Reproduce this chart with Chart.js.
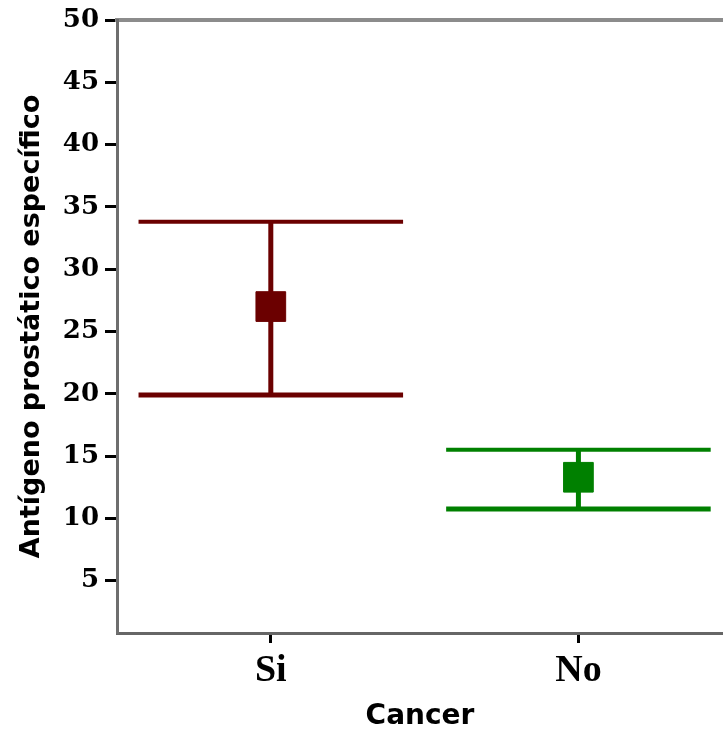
<!DOCTYPE html>
<html>
<head>
<meta charset="utf-8">
<script src="https://cdn.jsdelivr.net/npm/chart.js@4/dist/chart.umd.min.js"></script>
<style>
  body { margin: 0; background: #fff; }
  canvas { display: block; }
</style>
</head>
<body>
<canvas id="myChart" width="723" height="735"></canvas>
<script>
// data
const categories = ['Si', 'No'];
const means = [27.0, 13.3];
const lowers = [19.9, 10.75];
const uppers = [33.8, 15.5];
const yTicks = [5, 10, 15, 20, 25, 30, 35, 40, 45, 50];

const colors = ['#6b0000', '#008000'];
const capHalf = 0.43;

const datasets = [];
categories.forEach((cat, i) => {
    const c = colors[i];
    const line = {
        showLine: true,
        borderColor: c,
        backgroundColor: c,
        pointRadius: 0,
        borderCapStyle: 'butt',
    };
    datasets.push(Object.assign({}, line, {
        label: cat + ' sup',
        borderWidth: 4,
        data: [{ x: i - capHalf, y: uppers[i] }, { x: i + capHalf, y: uppers[i] }]
    }));
    datasets.push(Object.assign({}, line, {
        label: cat + ' inf',
        borderWidth: 5,
        data: [{ x: i - capHalf, y: lowers[i] }, { x: i + capHalf, y: lowers[i] }]
    }));
    datasets.push(Object.assign({}, line, {
        label: cat + ' rango',
        borderWidth: 5,
        data: [{ x: i, y: lowers[i] }, { x: i, y: uppers[i] }]
    }));
    datasets.push({
        label: cat + ' media',
        showLine: false,
        pointStyle: 'rect',
        pointRadius: 21,
        borderWidth: 1,
        borderColor: c,
        backgroundColor: c,
        data: [{ x: i, y: means[i] }]
    });
});

// no extra padding for overflowing tick labels
function noPad(scale) {
    scale.paddingLeft = 0;
    scale.paddingRight = 0;
    scale.paddingTop = 0;
    scale.paddingBottom = 0;
}

const config = {
    type: 'scatter',
    data: { datasets },
    options: {
        responsive: false,
        animation: false,
        layout: { padding: 0, autoPadding: false },
        plugins: {
            legend: { display: false },
            tooltip: { enabled: false }
        },
        scales: {
            x: {
                type: 'linear',
                position: 'bottom',
                min: -0.5,
                max: 1.47,
                afterBuildTicks: (scale) => {
                    scale.ticks = categories.map((c, i) => ({ value: i }));
                },
                afterFit: (scale) => { scale.height = 102; noPad(scale); },
                ticks: {
                    autoSkip: false,
                    maxRotation: 0,
                    padding: 5,
                    color: '#000',
                    font: { family: 'Liberation Serif', weight: 'bold', size: 38 },
                    callback: (v) => categories[v]
                },
                grid: {
                    drawOnChartArea: false,
                    drawTicks: true,
                    tickLength: 10,
                    tickColor: '#000',
                    tickWidth: 3
                },
                border: { color: '#666', width: 3 },
                title: {
                    display: true,
                    text: 'Cancer',
                    color: '#000',
                    padding: { top: 0, bottom: 1 },
                    font: { family: 'DejaVu Sans', weight: 'bold', size: 28 }
                }
            },
            x2: {
                type: 'linear',
                position: 'top',
                min: -0.5,
                max: 1.47,
                afterFit: (scale) => { scale.height = 20; noPad(scale); },
                ticks: { display: false },
                grid: { drawOnChartArea: false, drawTicks: false },
                border: { color: '#8c8c8c', width: 4 }
            },
            y: {
                type: 'linear',
                min: 0.8,
                max: 50,
                afterBuildTicks: (scale) => {
                    scale.ticks = yTicks.map(v => ({ value: v }));
                },
                afterFit: (scale) => { scale.width = 117; noPad(scale); },
                ticks: {
                    autoSkip: false,
                    padding: 6,
                    color: '#000',
                    font: { family: 'DejaVu Serif', weight: 'bold', size: 26 }
                },
                grid: {
                    drawOnChartArea: false,
                    drawTicks: true,
                    tickLength: 12,
                    tickColor: '#000',
                    tickWidth: 3
                },
                border: { color: '#6e6e6e', width: 3 },
                title: {
                    display: true,
                    text: 'Antígeno prostático específico',
                    color: '#000',
                    padding: { top: 16, bottom: 0 },
                    font: { family: 'DejaVu Sans', weight: 'bold', size: 27 }
                }
            }
        }
    }
};

var myChart = new Chart(document.getElementById('myChart'), config);
</script>
</body>
</html>
